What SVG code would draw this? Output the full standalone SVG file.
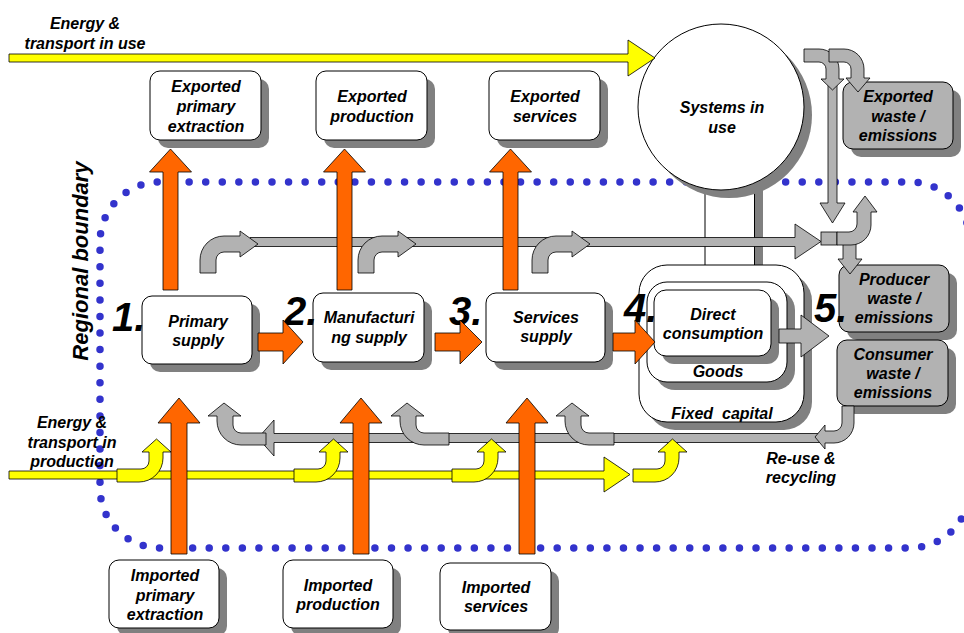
<svg xmlns="http://www.w3.org/2000/svg" width="964" height="633" viewBox="0 0 964 633">
<style>
.box{fill:#fff;stroke:#000;stroke-width:1}
.gbox{fill:#b2b2b2;stroke:#000;stroke-width:1}
.sh{fill:#808080}
.or{fill:#ff6600;stroke:#000;stroke-width:0.8}
.ye{fill:#ffff00;stroke:#000;stroke-width:0.8}
.gr{fill:#b2b2b2;stroke:#000;stroke-width:0.8}
text{font-family:"Liberation Sans",Arial,sans-serif;font-weight:bold;font-style:italic;font-size:16px;fill:#000}
.c{text-anchor:middle}
.num{font-size:40px}
</style>
<rect width="964" height="633" fill="#fff"/>
<g id="regional-boundary">
<rect x="100" y="182" width="870" height="366" rx="60" fill="none" stroke="#3333cc" stroke-width="7.5" stroke-linecap="round" stroke-dasharray="0 16.57" stroke-dashoffset="4"/>
<text class="c" style="font-size:22px" transform="translate(88,261) rotate(-90)">Regional boundary</text>
</g>
<g id="systems-in-use">
<line x1="705" y1="180" x2="705" y2="266" stroke="#000" stroke-width="1"/>
<rect x="755" y="180" width="8" height="86" fill="#808080"/>
<line x1="754.5" y1="180" x2="754.5" y2="266" stroke="#000" stroke-width="1"/>
<circle cx="729" cy="115" r="83" class="sh"/>
<circle cx="721" cy="107" r="83" class="box"/>
<text class="c" x="722" y="113">Systems in</text>
<text class="c" x="722" y="133">use</text>
</g>
<g id="energy-transport-in-use">
<text class="c" x="85" y="29">Energy &amp;</text>
<text class="c" x="85" y="49">transport in use</text>
</g>
<g id="energy-transport-in-production">
<text class="c" x="72" y="428">Energy &amp;</text>
<text class="c" x="72" y="448">transport in</text>
<text class="c" x="72" y="467">production</text>
</g>
<g id="reuse-recycling">
<text class="c" x="801" y="464">Re-use &amp;</text>
<text class="c" x="801" y="483">recycling</text>
</g>
<g id="exported-primary-extraction">
<rect x="158" y="79" width="111" height="69" rx="10" class="sh"/>
<rect x="150" y="71" width="111" height="69" rx="10" class="box"/>
<text class="c" x="206" y="92">Exported</text>
<text class="c" x="206" y="112">primary</text>
<text class="c" x="206" y="132">extraction</text>
</g>
<g id="exported-production">
<rect x="324" y="79" width="111" height="69" rx="10" class="sh"/>
<rect x="316" y="71" width="111" height="69" rx="10" class="box"/>
<text class="c" x="372" y="102">Exported</text>
<text class="c" x="372" y="122">production</text>
</g>
<g id="exported-services">
<rect x="497" y="79" width="111" height="69" rx="10" class="sh"/>
<rect x="489" y="71" width="111" height="69" rx="10" class="box"/>
<text class="c" x="545" y="102">Exported</text>
<text class="c" x="545" y="122">services</text>
</g>
<g id="exported-waste-emissions">
<rect x="851" y="90" width="110" height="67" rx="10" class="sh"/>
<rect x="843" y="82" width="110" height="67" rx="10" class="gbox"/>
<text class="c" x="898" y="102">Exported</text>
<text class="c" x="898" y="122">waste /</text>
<text class="c" x="898" y="141">emissions</text>
</g>
<g id="primary-supply">
<rect x="150" y="304" width="110" height="68" rx="10" class="sh"/>
<rect x="142" y="296" width="110" height="68" rx="10" class="box"/>
<text class="c" x="198" y="327">Primary</text>
<text class="c" x="198" y="346">supply</text>
<text class="num" x="112" y="331">1.</text>
</g>
<g id="manufacturing-supply">
<rect x="321" y="301" width="111" height="69" rx="10" class="sh"/>
<rect x="313" y="293" width="111" height="69" rx="10" class="box"/>
<text class="c" x="369" y="323">Manufacturi</text>
<text class="c" x="369" y="343">ng supply</text>
<text class="num" x="284" y="325">2.</text>
</g>
<g id="services-supply">
<rect x="494" y="301" width="119" height="69" rx="10" class="sh"/>
<rect x="486" y="293" width="119" height="69" rx="10" class="box"/>
<text class="c" x="546" y="323">Services</text>
<text class="c" x="546" y="342">supply</text>
<text class="num" x="449" y="325">3.</text>
</g>
<g id="fixed-capital">
<rect x="647" y="273" width="165" height="157" rx="28" class="sh"/>
<rect x="639" y="265" width="165" height="157" rx="28" class="box"/>
<text class="c" x="722" y="419" xml:space="preserve">Fixed  capital</text>
</g>
<g id="goods">
<rect x="655" y="290" width="140" height="100" rx="20" class="sh"/>
<rect x="647" y="282" width="140" height="100" rx="20" class="box"/>
<text class="c" x="718" y="377">Goods</text>
</g>
<g id="direct-consumption">
<text class="num" x="624" y="322">4.</text>
<rect x="662" y="298" width="117" height="66" rx="12" class="sh"/>
<rect x="654" y="290" width="117" height="66" rx="12" class="box"/>
<text class="c" x="713" y="320">Direct</text>
<text class="c" x="713" y="339">consumption</text>
</g>
<g id="producer-waste-emissions">
<rect x="847" y="273" width="110" height="67" rx="10" class="sh"/>
<rect x="839" y="265" width="110" height="67" rx="10" class="gbox"/>
<text class="c" x="894" y="285">Producer</text>
<text class="c" x="894" y="304">waste /</text>
<text class="c" x="894" y="323">emissions</text>
<text class="num" x="814" y="322">5.</text>
</g>
<g id="consumer-waste-emissions">
<rect x="845" y="348" width="111" height="66" rx="10" class="sh"/>
<rect x="837" y="340" width="111" height="66" rx="10" class="gbox"/>
<text class="c" x="893" y="360">Consumer</text>
<text class="c" x="893" y="379">waste /</text>
<text class="c" x="893" y="398">emissions</text>
</g>
<g id="imported-primary-extraction">
<rect x="117" y="568" width="110" height="68" rx="10" class="sh"/>
<rect x="109" y="560" width="110" height="68" rx="10" class="box"/>
<text class="c" x="165" y="581">Imported</text>
<text class="c" x="165" y="601">primary</text>
<text class="c" x="165" y="620">extraction</text>
</g>
<g id="imported-production">
<rect x="291" y="568" width="110" height="68" rx="10" class="sh"/>
<rect x="283" y="560" width="110" height="68" rx="10" class="box"/>
<text class="c" x="338" y="591">Imported</text>
<text class="c" x="338" y="610">production</text>
</g>
<g id="imported-services">
<rect x="448" y="571" width="111" height="67" rx="10" class="sh"/>
<rect x="440" y="563" width="111" height="67" rx="10" class="box"/>
<text class="c" x="496" y="593">Imported</text>
<text class="c" x="496" y="612">services</text>
</g>
<g id="connectors">
<path class="ye" d="M9,54H628V40L655,58L628,76V62H9Z"/>
<path class="gr" d="M250,237.5H795V224L821,241.5L795,259V246.5H250Z"/>
<path class="gr" d="M200,273V260A24,24 0 0 1 224,236H240V231L258,244L240,257V252H224A8,8 0 0 0 216,260V273Z"/>
<path class="gr" d="M358,273V260A24,24 0 0 1 382,236H398V231L416,244L398,257V252H382A8,8 0 0 0 374,260V273Z"/>
<path class="gr" d="M532,273V260A24,24 0 0 1 556,236H572V231L590,244L572,257V252H556A8,8 0 0 0 548,260V273Z"/>
<path class="gr" d="M828,82H837V203H845L832.5,223L820,203H828Z"/>
<path class="gr" d="M804,49H819A20,20 0 0 1 839,69V79H844L832.5,90L821,79H826V69A7,7 0 0 0 819,62H804Z"/>
<path class="gr" d="M829,49H844A20,20 0 0 1 864,69V78H870L858,92L846,78H851V69A7,7 0 0 0 844,62H829Z"/>
<path class="gr" d="M843,243H856V259H862L850,274L838,259H843Z"/>
<rect class="gr" x="821" y="232" width="16" height="13"/>
<path class="gr" d="M837,232H849A8,8 0 0 0 857,224V212H853L865,196L877,212H871V225A20,20 0 0 1 851,245H837Z"/>
<path class="gr" d="M779,329H801V315L829,336L801,357V343H779Z"/>
<path class="gr" d="M826,433.5H274V420L258,438L274,456V442.5H826Z"/>
<path class="gr" d="M842,406V423A8,8 0 0 1 834,431H825V425L815,437L825,449V443H834A20,20 0 0 0 854,423V406Z"/>
<path class="gr" d="M266,433H241A8,8 0 0 1 233,425V416H241L224,403L208,416H217V421A24,24 0 0 0 241,445H266Z"/>
<path class="gr" d="M449,433H424A8,8 0 0 1 416,425V416H424L407,403L391,416H400V421A24,24 0 0 0 424,445H449Z"/>
<path class="gr" d="M614,433H589A8,8 0 0 1 581,425V416H589L572,403L556,416H565V421A24,24 0 0 0 589,445H614Z"/>
<path class="ye" d="M9,471H604V457L630,474.5L604,492V479H9Z"/>
<path class="ye" d="M117,469H141A8,8 0 0 0 149,461V452H142L156.5,439L171,452H163V458A24,24 0 0 1 139,482H117Z"/>
<path class="ye" d="M294,469H318A8,8 0 0 0 326,461V452H319L333.5,439L348,452H340V458A24,24 0 0 1 316,482H294Z"/>
<path class="ye" d="M452,469H476A8,8 0 0 0 484,461V452H477L491.5,439L506,452H498V458A24,24 0 0 1 474,482H452Z"/>
<path class="ye" d="M633,469H657A8,8 0 0 0 665,461V452H658L672.5,439L687,452H679V458A24,24 0 0 1 655,482H633Z"/>
<path class="or" d="M163,290V172H149.5L170.5,149L191.5,172H178V290Z"/>
<path class="or" d="M337,290V172H323.5L344.5,149L365.5,172H352V290Z"/>
<path class="or" d="M503,290V172H489.5L510.5,149L531.5,172H518V290Z"/>
<path class="or" d="M258,333H283V320L303,342L283,364V351H258Z"/>
<path class="or" d="M435,333H460V320L482,342L460,364V351H435Z"/>
<path class="or" d="M613,333H635V320L655,342L635,364V351H613Z"/>
<path class="or" d="M171,554V423H158L179,398L200,423H187V554Z"/>
<path class="or" d="M353,554V423H340L361,398L382,423H369V554Z"/>
<path class="or" d="M519,554V423H506L527,398L548,423H535V554Z"/>
</g>
</svg>
